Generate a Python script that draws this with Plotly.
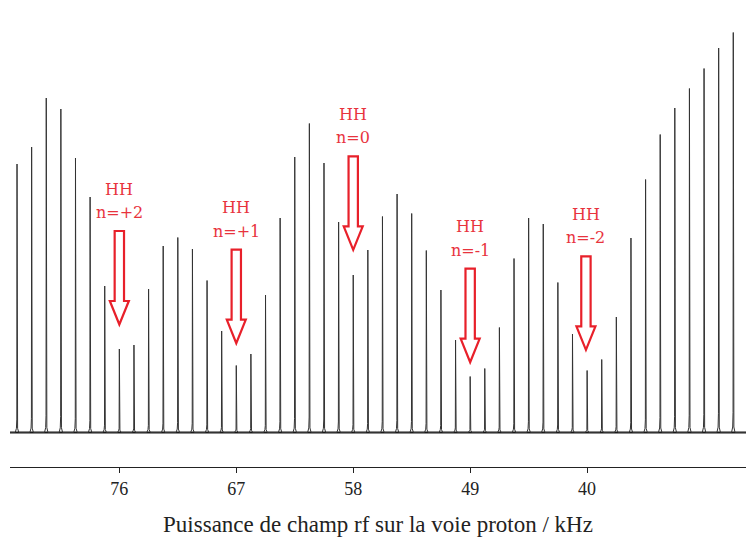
import plotly.graph_objects as go

# ---- data -------------------------------------------------------------
# peak intensities (arbitrary units) of the 50 spectra, left to right
peak_heights = [268.5, 285.5, 334.5, 323.5, 274.5, 235.5, 146.5, 83.5, 87.5, 143.5,
                186.5, 195.0, 183.5, 152.0, 101.5, 67.0, 78.5, 137.5, 214.5, 275.5,
                309.0, 269.5, 210.5, 157.5, 182.5, 216.0, 238.5, 219.0, 182.0, 142.5,
                92.5, 56.0, 64.0, 105.0, 174.0, 214.5, 208.5, 150.0, 98.5, 62.0,
                73.0, 115.5, 194.5, 253.0, 298.0, 324.5, 344.0, 364.0, 384.5, 400.0]
tick_positions = [7, 15, 23, 31, 39]            # spectrum index
tick_labels = ["76", "67", "58", "49", "40"]     # kHz
hh_labels = ["n=+2", "n=+1", "n=0", "n=-1", "n=-2"]
hh_index = [7, 15, 23, 31, 38.92]
hh_level = [243.5, 224.8, 318.2, 205.8, 218.2]

# ---- build spectrum trace ---------------------------------------------
x_min, x_max = -0.48, 49.87
xs, ys = [x_min], [0]
for i, h in enumerate(peak_heights):
    xs += [i - 0.12, i - 0.04, i - 0.015, i, i + 0.015, i + 0.04, i + 0.12]
    ys += [0, 0.01 * h + 1.5, 0.05 * h, h, 0.05 * h, 0.01 * h + 1.5, 0]
xs.append(x_max)
ys.append(0)

fig = go.Figure()
fig.add_trace(go.Scatter(x=[x_min, x_max], y=[0, 0], mode="lines",
                         line=dict(color="#1a1a1a", width=2.0), hoverinfo="skip"))
fig.add_trace(go.Scatter(x=xs, y=ys, mode="lines",
                         line=dict(color="#333333", width=1.0), hoverinfo="skip"))

red = "#e8202a"
txt_red = "#e8333d"
font_serif = "Liberation Serif"
label_font = "DejaVu Serif"
shapes, annotations = [], []
for lab, xi, yl in zip(hh_labels, hh_index, hh_level):
    annotations.append(dict(x=xi, y=yl, text="HH", showarrow=False,
                            font=dict(family=label_font, size=16, color=txt_red)))
    annotations.append(dict(x=xi, y=yl - 23.5, text=lab, showarrow=False,
                            font=dict(family=label_font, size=16, color=txt_red)))
    top = yl - 42
    head = top - 70
    tip = head - 23.5
    sw, hw = 0.32, 0.65
    path = (f"M {xi - sw},{top} L {xi + sw},{top} L {xi + sw},{head} "
            f"L {xi + hw},{head} L {xi},{tip} L {xi - hw},{head} "
            f"L {xi - sw},{head} Z")
    shapes.append(dict(type="path", path=path, xref="x", yref="y",
                       line=dict(color=red, width=2.2), fillcolor="rgba(0,0,0,0)"))

fig.update_layout(
    width=746, height=537,
    margin=dict(l=10, r=0, t=20, b=70),
    paper_bgcolor="white", plot_bgcolor="white",
    showlegend=False,
    shapes=shapes, annotations=annotations,
    font=dict(family=font_serif, color="#222"),
    xaxis=dict(range=[x_min, x_max], showgrid=False, zeroline=False,
               showline=True, linecolor="#222", linewidth=1.2,
               ticks="outside", ticklen=5, tickcolor="#222", tickwidth=1,
               tickvals=tick_positions, ticktext=tick_labels,
               tickfont=dict(family=font_serif, size=18, color="#222"),
               title=dict(text="Puissance de champ rf sur la voie proton / kHz",
                          font=dict(family=font_serif, size=23, color="#222"),
                          standoff=24),
               automargin=False, fixedrange=True),
    yaxis=dict(range=[-34.5, 412.5], visible=False, fixedrange=True),
)

fig.write_html("out.html", config={"displayModeBar": False},
               post_script="document.body.style.margin='0';document.body.style.overflow='hidden';")
